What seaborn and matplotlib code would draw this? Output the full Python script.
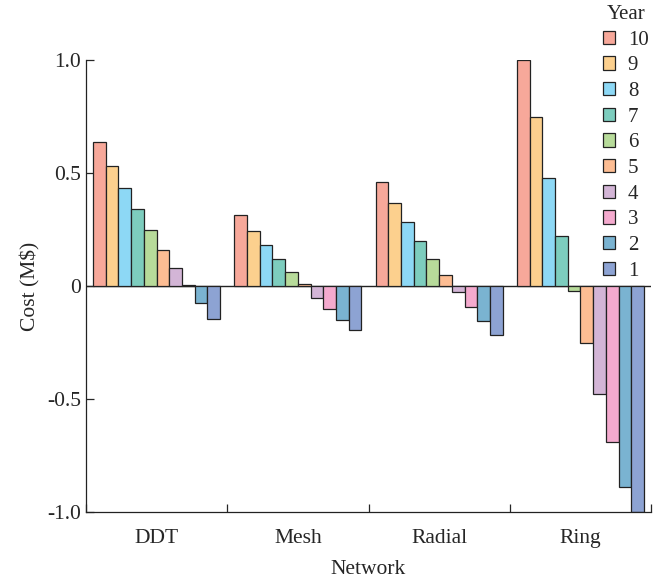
import numpy as np
import pandas as pd
import matplotlib
matplotlib.use('Agg')
import matplotlib.pyplot as plt
import seaborn as sns

networks = ['DDT', 'Mesh', 'Radial', 'Ring']
years = ['10', '9', '8', '7', '6', '5', '4', '3', '2', '1']

# cost per year (rows follow `years`), columns follow `networks`
cost_ddt = [0.639, 0.532, 0.432, 0.339, 0.249, 0.161, 0.078, 0.003, -0.074, -0.146]
cost_mesh = [0.314, 0.245, 0.180, 0.118, 0.061, 0.007, -0.052, -0.102, -0.150, -0.196]
cost_radial = [0.459, 0.369, 0.282, 0.199, 0.121, 0.047, -0.027, -0.091, -0.156, -0.217]
cost_ring = [1.0, 0.748, 0.479, 0.223, -0.024, -0.254, -0.478, -0.689, -0.889, -1.0]

year_colors = ['#F7A89A', '#FCD08E', '#8DD8F5', '#7DCDBE', '#B7DB9A',
               '#FDBD93', '#D3B5D6', '#F4AACE', '#7AB3D1', '#8DA3D3']

rows = []
for net, vals in zip(networks, [cost_ddt, cost_mesh, cost_radial, cost_ring]):
    for yr, v in zip(years, vals):
        rows.append({'Network': net, 'Year': yr, 'Cost': v})
df = pd.DataFrame(rows)

sns.set_style('ticks')
plt.rcParams['font.family'] = ['Liberation Serif', 'DejaVu Serif']

fig = plt.figure(figsize=(6.68, 5.78), dpi=100)
ax = fig.add_axes([86 / 668, 1 - 512 / 578, 565 / 668, 452 / 578])

sns.barplot(data=df, x='Network', y='Cost', hue='Year', hue_order=years,
            order=networks, palette=year_colors, width=0.9, saturation=1,
            edgecolor='#222222', linewidth=0.9, errorbar=None, ax=ax)

ax.axhline(0, color='#222222', lw=1.0, zorder=0.5)
ax.set_xlim(-0.5, 3.5)
ax.set_ylim(-1.0, 1.0)
ax.set_yticks([-1.0, -0.5, 0, 0.5, 1.0])
ax.set_yticklabels(['-1.0', '-0.5', '0', '0.5', '1.0'])
ax.set_xticks(range(len(networks)))
ax.set_xticks([-0.5, 0.5, 1.5, 2.5, 3.5], minor=True)
ax.tick_params(axis='x', which='major', length=0, labelsize=15.5, pad=12)
ax.tick_params(axis='x', which='minor', direction='in', length=6, width=0.9)
ax.tick_params(axis='y', direction='in', length=6, width=0.9, labelsize=15.5)
ax.set_xlabel('Network', fontsize=15.5, labelpad=9)
ax.set_ylabel('Cost (M\\$)', fontsize=15.5, labelpad=5)
sns.despine(ax=ax)
for s in ['left', 'bottom']:
    ax.spines[s].set_linewidth(0.9)
    ax.spines[s].set_color('#222222')

sns.move_legend(ax, 'upper left', bbox_to_anchor=(0.9, 1.14), frameon=False,
                title='Year', fontsize=15, title_fontsize=15,
                handlelength=0.6, handleheight=0.6, handletextpad=0.6,
                labelspacing=0.32, borderaxespad=0)

fig.savefig('out.png', dpi=100)
